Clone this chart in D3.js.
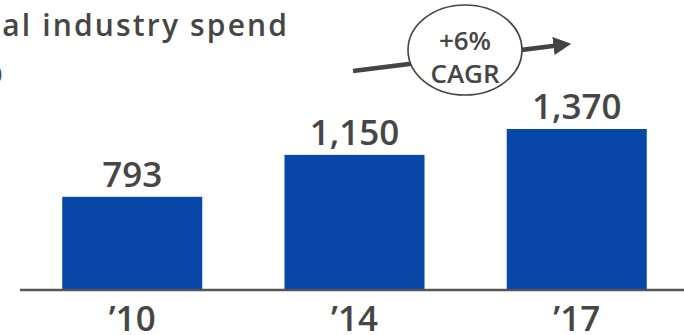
<!DOCTYPE html>
<html><head><meta charset="utf-8">
<script src="https://cdn.jsdelivr.net/npm/d3@7"></script>
<style>body{margin:0;background:#fff}svg{display:block}</style>
</head><body>
<svg id="c" width="684" height="335"></svg>
<script>
const categories = ["’10", "’14", "’17"];
const values = [793, 1150, 1370];
const valueLabels = ["793", "1,150", "1,370"];
const titleLines = ["Global industry spend", "($B)"];
const cagrLines = ["+6%", "CAGR"];

const svg = d3.select("#c");
const font = "'Open Sans', sans-serif";
const textCol = "#464646";
const baseY = 290;

const x = d3.scaleBand().domain(categories).range([-20, 729]).padding(0.37);
const y = d3.scaleLinear().domain([0, 1370]).range([baseY, 129]);

svg.selectAll("rect.bar").data(values).join("rect")
  .attr("class", "bar")
  .attr("x", (d, i) => x(categories[i]))
  .attr("width", x.bandwidth())
  .attr("y", d => y(d))
  .attr("height", d => baseY - y(d))
  .attr("fill", "#0846A8");

svg.selectAll("text.val").data(values).join("text")
  .attr("class", "val")
  .attr("x", (d, i) => x(categories[i]) + x.bandwidth() / 2)
  .attr("y", d => y(d) - 10)
  .attr("text-anchor", "middle")
  .attr("font-family", font).attr("font-size", 35).attr("font-weight", 600)
  .attr("fill", textCol)
  .text((d, i) => valueLabels[i]);

const axis = d3.axisBottom(x).tickSize(0).tickPadding(0);
const ag = svg.append("g").attr("transform", `translate(0,${baseY})`).call(axis);
ag.select(".domain").attr("d", "M20,0H684").attr("stroke", "#555").attr("stroke-width", 2.5);
ag.selectAll("text").attr("font-family", font).attr("font-size", 35).attr("font-weight", 600)
  .attr("fill", textCol).attr("y", 41).attr("dy", 0);

// title (cut off at left)
const t1 = svg.append("text").attr("x", 287).attr("y", 36).attr("text-anchor", "end")
  .attr("font-family", font).attr("font-size", 30).attr("font-weight", 600)
  .attr("fill", textCol).text(titleLines[0]);
{
  const node = t1.node();
  const n = titleLines[0].length;
  const sub = node.getSubStringLength(n - 17, 17);
  const ls = Math.max(0, (287 - sub) / 17);
  t1.attr("letter-spacing", ls.toFixed(2)).attr("x", 287 + ls);
}
svg.append("text").attr("x", 2).attr("y", 80).attr("text-anchor", "end")
  .attr("font-family", font).attr("font-size", 20).attr("font-weight", 600)
  .attr("fill", textCol).text(titleLines[1]);

// CAGR arrow
const defs = svg.append("defs");
defs.append("marker").attr("id", "ah").attr("viewBox", "0 0 10 10")
  .attr("refX", 2).attr("refY", 5).attr("markerWidth", 4).attr("markerHeight", 4)
  .attr("orient", "auto").attr("markerUnits", "strokeWidth")
  .append("path").attr("d", "M0,0L10,5L0,10Z").attr("fill", "#444");
svg.append("line").attr("x1", 353).attr("y1", 71).attr("x2", 557).attr("y2", 45.5)
  .attr("stroke", "#444").attr("stroke-width", 4.5).attr("marker-end", "url(#ah)");
svg.append("ellipse").attr("cx", 465).attr("cy", 50).attr("rx", 57).attr("ry", 45)
  .attr("fill", "#fff").attr("stroke", "#444").attr("stroke-width", 1.6);
svg.selectAll("text.cagr").data(cagrLines).join("text").attr("class", "cagr")
  .attr("x", 465).attr("y", (d, i) => 50 + i * 33)
  .attr("text-anchor", "middle")
  .attr("font-family", font).attr("font-size", 26).attr("font-weight", 600)
  .attr("fill", textCol).text(d => d);
</script>
</body></html>
